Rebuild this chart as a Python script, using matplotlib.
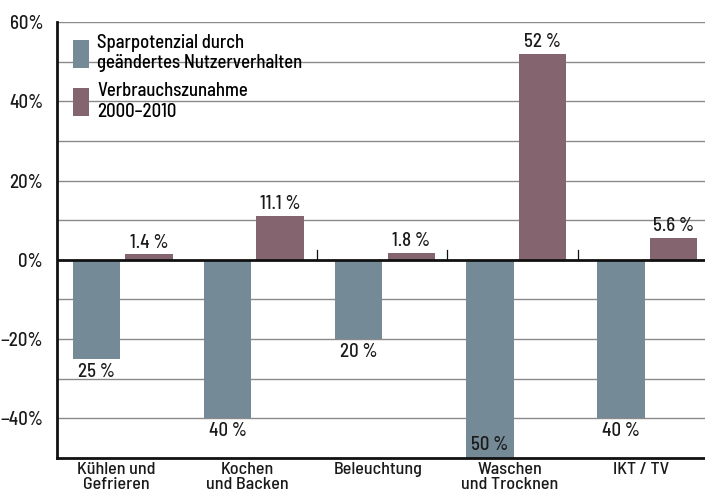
import numpy as np
import matplotlib
matplotlib.use('Agg')
from matplotlib import pyplot as plt
from matplotlib import font_manager as fm
from matplotlib.patches import Patch

# pick a narrow DIN-like face if one is installed
have = set(f.name for f in fm.fontManager.ttflist)
prefer = ['Barlow Semi Condensed', 'Barlow Condensed', 'Roboto Condensed',
          'Archivo Narrow', 'PT Sans Narrow', 'Liberation Sans Narrow']
fams = [f for f in prefer if f in have][:1] + ['DejaVu Sans']
plt.rcParams['font.family'] = fams
plt.rcParams['font.weight'] = 500

# data
categories = ['Kühlen und\nGefrieren', 'Kochen\nund Backen', 'Beleuchtung',
              'Waschen\nund Trocknen', 'IKT / TV']
sparpotenzial = [-25, -40, -20, -50, -40]
zunahme = [1.4, 11.1, 1.8, 52, 5.6]
spar_labels = ['25 %', '40 %', '20 %', '50 %', '40 %']
zun_labels = ['1.4 %', '11.1 %', '1.8 %', '52 %', '5.6 %']
legend_labels = ['Sparpotenzial durch\ngeändertes Nutzerverhalten',
                 'Verbrauchszunahme\n2000–2010']

c_blue = '#748a96'
c_purple = '#83646f'
txt = '#1a1a1a'
fs = 13.5

fig = plt.figure(figsize=(7.05, 5.0), dpi=100)
ax = fig.add_axes([0.081, 0.084, 0.919, 0.872])

x = np.arange(len(categories))
w = 0.36
off = 0.2

ax.set_ylim(-50, 60)
ax.set_xlim(-0.5, 4.44)

# gridlines every 10 %
for yv in np.arange(-40, 61, 10):
    if yv == 0:
        continue
    ax.axhline(yv, color='#8a8a8a', lw=1.0, zorder=0)

ax.bar(x - off, sparpotenzial, w, color=c_blue, zorder=2)
ax.bar(x + off, zunahme, w, color=c_purple, zorder=2)

ax.axhline(0, color='#111111', lw=2.0, zorder=3)

# small separators at the zero line
for xs in [1.48, 2.47, 3.47]:
    ax.plot([xs, xs], [0, 2.6], color='#111111', lw=0.9, zorder=3)

for xi, v, lab in zip(x, sparpotenzial, spar_labels):
    if v <= -50:
        ax.text(xi - off, v + 1.0, lab, ha='center', va='bottom',
                fontsize=fs, color=txt, zorder=4)
    else:
        ax.text(xi - off, v - 1.0, lab, ha='center', va='top',
                fontsize=fs, color=txt, zorder=4)

for xi, v, lab in zip(x, zunahme, zun_labels):
    ax.text(xi + off, v + 0.6, lab, ha='center', va='bottom',
            fontsize=fs, color=txt, zorder=4)

ax.set_yticks(np.arange(-40, 61, 20))
ax.set_yticklabels(['\u221240%', '\u221220%', '0%', '20%', '40%', '60%'])
ax.set_xticks(x - 0.05)
ax.set_xticklabels(categories, ha='center', va='top', linespacing=0.95)
ax.tick_params(axis='both', length=0, labelsize=fs, colors=txt)
ax.tick_params(axis='x', pad=3, labelsize=13)
ax.tick_params(axis='y', pad=10)

for s in ['top', 'right']:
    ax.spines[s].set_visible(False)
for s in ['left', 'bottom']:
    ax.spines[s].set_linewidth(2.0)
    ax.spines[s].set_color('#111111')

handles = [Patch(facecolor=c_blue), Patch(facecolor=c_purple)]
ax.legend(handles, legend_labels, loc='upper left', bbox_to_anchor=(0.01, 0.995),
          frameon=False, fontsize=fs, handlelength=0.85, handleheight=1.9,
          handletextpad=0.45, labelspacing=0.5, borderaxespad=0.1)

fig.savefig('out.png', dpi=100)
